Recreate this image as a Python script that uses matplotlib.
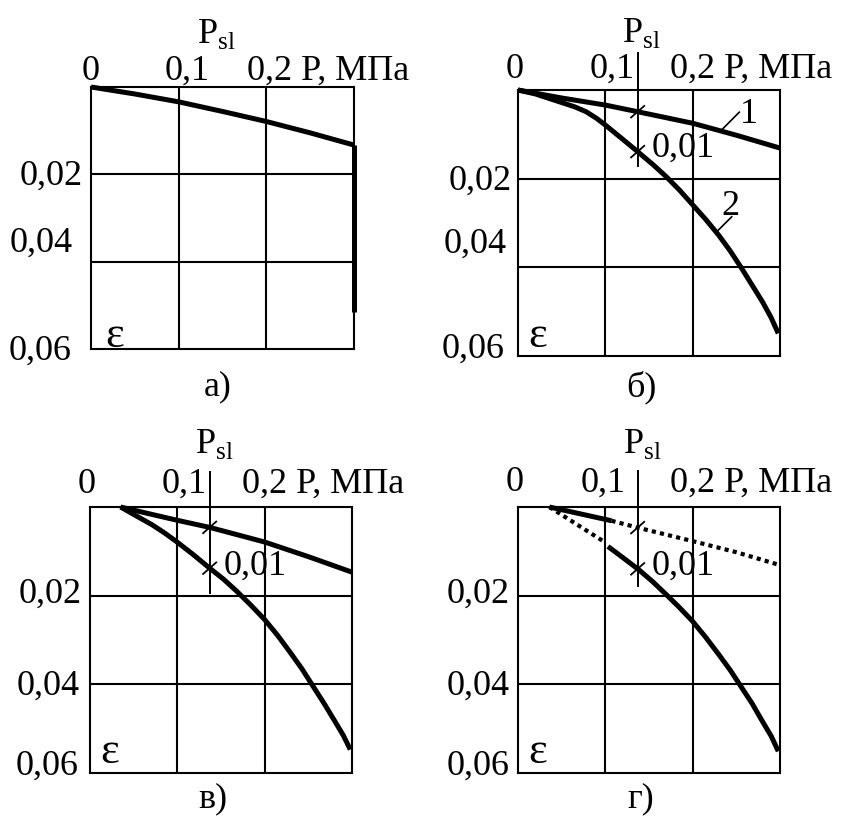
"""
Relative settlement strain vs. pressure: four stamp-test diagrams (а, б, в, г).
"""

import numpy as np
import matplotlib
matplotlib.use("Agg")
import matplotlib.pyplot as plt

plt.rcParams["font.family"] = ["Liberation Serif", "DejaVu Serif"]
plt.rcParams["mathtext.fontset"] = "custom"
plt.rcParams["mathtext.rm"] = "Liberation Serif"

W, H = 841, 818
FS = 26

# initial subsidence pressure, MPa
P_SL = 0.137

# а) single curve, then collapse at constant pressure
a_p = [0, 0.05, 0.1, 0.15, 0.2, 0.25, 0.3]
a_eps = [0, 0.0016, 0.0034, 0.0056, 0.0079, 0.0105, 0.0133]
a_drop_p = [0.3, 0.3]
a_drop_eps = [0.0133, 0.0515]

# б) 1 - natural moisture, 2 - soaked
b1_p = [0, 0.05, 0.1, 0.137, 0.2, 0.25, 0.3]
b1_eps = [0, 0.0018, 0.0034, 0.0049, 0.0075, 0.0102, 0.0131]
b2_p = [0, 0.02, 0.048, 0.065, 0.078, 0.09, 0.1, 0.118, 0.137, 0.155, 0.17,
        0.185, 0.2, 0.215, 0.23, 0.243, 0.256, 0.268, 0.28, 0.29, 0.298]
b2_eps = [0, 0.0009, 0.0027, 0.0038, 0.0049, 0.0064, 0.0079, 0.0108, 0.0139,
          0.0169, 0.0196, 0.0226, 0.0259, 0.0292, 0.0328, 0.0363, 0.0402,
          0.044, 0.0478, 0.0514, 0.0549]

# в) same pair, starting from household pressure
v1_p = [0.035, 0.065, 0.1, 0.137, 0.2, 0.25, 0.3]
v1_eps = [0, 0.0014, 0.0030, 0.0046, 0.0079, 0.0112, 0.0147]
v2_p = [0.035, 0.052, 0.071, 0.085, 0.099, 0.118, 0.137, 0.153, 0.168, 0.184,
        0.2, 0.215, 0.23, 0.243, 0.254, 0.268, 0.28, 0.29, 0.298]
v2_eps = [0, 0.0019, 0.0040, 0.0058, 0.0078, 0.0107, 0.0138, 0.0163, 0.019,
          0.0221, 0.0254, 0.0290, 0.0330, 0.0366, 0.0400, 0.0443, 0.0482,
          0.0515, 0.0547]

# г) measured parts solid, assumed parts dotted
g1_solid_p = [0.036, 0.107]
g1_solid_eps = [0, 0.0031]
g1_dot_p = [0.107, 0.138, 0.2, 0.25, 0.298]
g1_dot_eps = [0.0031, 0.0047, 0.0077, 0.0102, 0.0130]
g2_dot_p = [0.036, 0.0975]
g2_dot_eps = [0, 0.0077]
g2_solid_p = [0.103, 0.12, 0.138, 0.154, 0.17, 0.185, 0.2, 0.215, 0.23, 0.243,
              0.254, 0.268, 0.28, 0.29, 0.298]
g2_solid_eps = [0.0089, 0.0114, 0.0141, 0.0168, 0.0198, 0.0227, 0.0258, 0.0294,
                0.0333, 0.0368, 0.0401, 0.0443, 0.0484, 0.0517, 0.0551]

x_grid = [0.1, 0.2]
y_grid = [0.02, 0.04]

fig = plt.figure(figsize=(W / 100, H / 100), dpi=100)


def make_axes(l, t, r, b):
    ax = fig.add_axes([l / W, 1 - b / H, (r - l) / W, (b - t) / H])
    ax.set_xlim(0, 0.3)
    ax.set_ylim(0.06, 0)
    ax.set_xticks(x_grid)
    ax.set_yticks(y_grid)
    ax.grid(True, color="black", lw=1.5)
    ax.tick_params(length=0, labelbottom=False, labelleft=False)
    for s in ax.spines.values():
        s.set_linewidth(1.5)
    return ax


def put(ax, x, y, s, ha="left", size=FS):
    ax.text(x, y, s, ha=ha, va="baseline", fontsize=size, clip_on=False)


def curve(ax, p, eps, dotted=False):
    if dotted:
        ax.plot(p, eps, color="black", lw=3.0, dashes=(1, 1),
                dash_capstyle="butt", clip_on=False)
    else:
        ax.plot(p, eps, color="black", lw=3.6, solid_capstyle="butt",
                solid_joinstyle="round", clip_on=False)


def psl_line(ax, top, bottom, marks):
    ax.plot([P_SL, P_SL], [top, bottom], color="black", lw=1.4, clip_on=False)
    for e in marks:
        ax.plot([P_SL - 0.0075, P_SL + 0.0075], [e + 0.0013, e - 0.0013],
                color="black", lw=1.3, clip_on=False)


def frame_text(ax, top_y, xs, psl, left, eps_pos, letter):
    put(ax, xs[0], top_y, "0")
    put(ax, xs[1], top_y, "0,1")
    put(ax, xs[2], top_y, "0,2 P, МПа")
    put(ax, psl[0], psl[1], r"P$_{\mathregular{sl}}$")
    for (x, y), s in zip(left, ["0,02", "0,04", "0,06"]):
        put(ax, x, y, s, ha="right")
    put(ax, eps_pos[0], eps_pos[1], "ε", size=32)
    put(ax, letter[0], letter[1], letter[2], ha="center")


# а)
ax = make_axes(91, 87, 354, 349)
curve(ax, a_p, a_eps)
ax.plot(a_drop_p, a_drop_eps, color="black", lw=3.6, solid_capstyle="butt",
        clip_on=False)
frame_text(ax, -0.0016, [-0.0106, 0.0844, 0.1776], (0.1206, -0.010),
           [(-0.0095, 0.0224), (-0.0209, 0.0377), (-0.022, 0.0625)],
           (0.0160, 0.0595), (0.145, 0.0705, "а)"))

# б)
ax = make_axes(518, 90, 780, 356)
curve(ax, b1_p, b1_eps)
curve(ax, b2_p, b2_eps)
psl_line(ax, -0.0083, 0.0171,
         [np.interp(P_SL, b1_p, b1_eps), np.interp(P_SL, b2_p, b2_eps)])
frame_text(ax, -0.0027, [-0.0137, 0.0824, 0.174], (0.1187, -0.0109),
           [(-0.0072, 0.0226), (-0.0129, 0.0368), (-0.0149, 0.0605)],
           (0.0120, 0.0579), (0.1416, 0.0690, "б)"))
put(ax, 0.1531, 0.0150, "0,01")
put(ax, 0.2542, 0.0075, "1")
put(ax, 0.2332, 0.0282, "2")
ax.plot([0.2332, 0.2534], [0.0090, 0.0050], color="black", lw=1.2)
ax.plot([0.2294, 0.2447], [0.0316, 0.0286], color="black", lw=1.2)

# в)
ax = make_axes(90, 507, 352, 773)
curve(ax, v1_p, v1_eps)
curve(ax, v2_p, v2_eps)
psl_line(ax, -0.008, 0.0193,
         [np.interp(P_SL, v1_p, v1_eps), np.interp(P_SL, v2_p, v2_eps)])
frame_text(ax, -0.0032, [-0.0145, 0.0821, 0.1737], (0.1202, -0.0122),
           [(-0.0095, 0.0217), (-0.0115, 0.0423), (-0.0134, 0.0604)],
           (0.0117, 0.0577), (0.141, 0.0678, "в)"))
put(ax, 0.1527, 0.0153, "0,01")

# г)
ax = make_axes(518, 507, 780, 773)
curve(ax, g1_solid_p, g1_solid_eps)
curve(ax, g1_dot_p, g1_dot_eps, dotted=True)
curve(ax, g2_dot_p, g2_dot_eps, dotted=True)
curve(ax, g2_solid_p, g2_solid_eps)
psl_line(ax, -0.0082, 0.0179,
         [np.interp(P_SL, g1_dot_p, g1_dot_eps),
          np.interp(P_SL, g2_solid_p, g2_solid_eps)])
frame_text(ax, -0.0035, [-0.0137, 0.0718, 0.174], (0.1206, -0.0122),
           [(-0.0095, 0.0217), (-0.0100, 0.0423), (-0.0100, 0.0604)],
           (0.0120, 0.0577), (0.14, 0.0678, "г)"))
put(ax, 0.1531, 0.0153, "0,01")

fig.savefig("out.png", dpi=100)
